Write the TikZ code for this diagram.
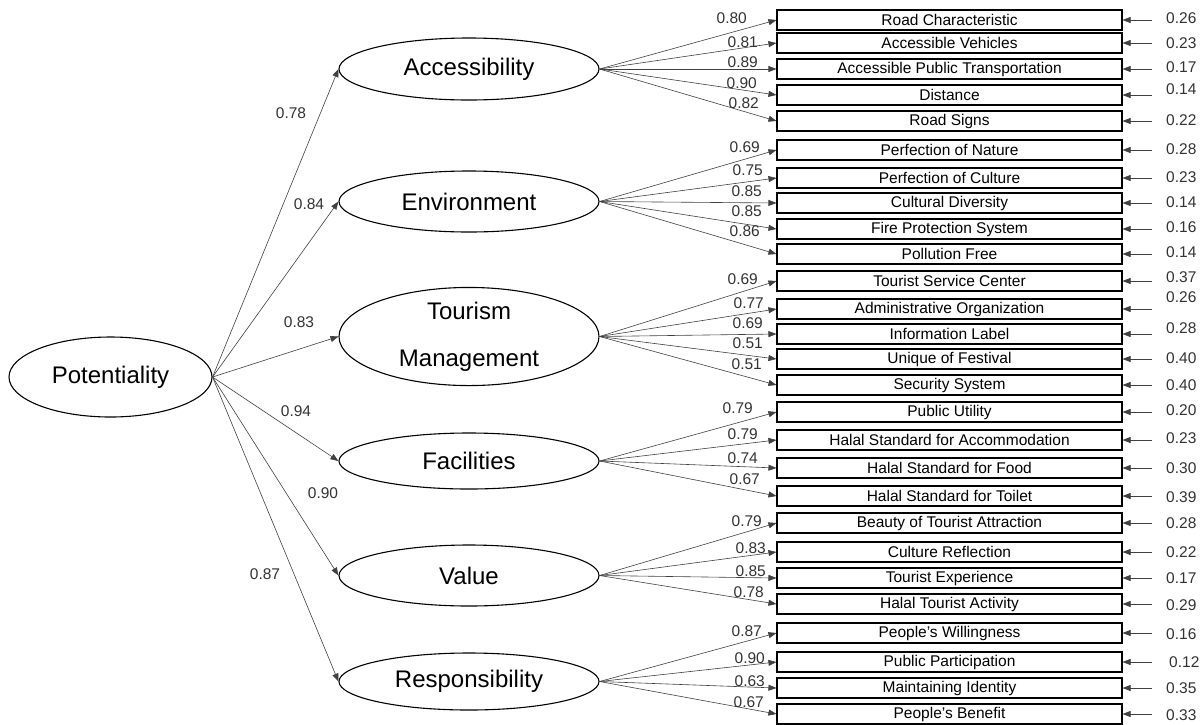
\documentclass[tikz,border=0pt]{standalone}
\usepackage{fontspec}
\setmainfont{Liberation Sans}
\usetikzlibrary{shapes.geometric,arrows.meta}
\begin{document}
\begin{tikzpicture}[x=1pt,y=-1pt,
  lat/.style={draw,ellipse,line width=1.1pt,inner sep=0pt,minimum width=260pt,minimum height=61pt,font=\fontsize{24}{28}\selectfont},
  obs/.style={draw,rectangle,line width=1.1pt,minimum width=345pt,minimum height=20pt,inner sep=0pt,font=\fontsize{15.5}{18}\selectfont},
  ld/.style={draw=black!75,line width=0.6pt,-{Triangle[length=8pt,width=6pt]}},
  num/.style={inner sep=0pt,font=\fontsize{15.5}{18}\selectfont,text=black!80},
]
\useasboundingbox (0,0) rectangle (1201,724);
% second-order and first-order latent variables
\node[lat,minimum width=203pt,minimum height=80pt] (pot) at (110.5,377) {Potentiality};
\node[lat,minimum height=62pt] (acc) at (469,69) {Accessibility};
\node[lat] (env) at (469,201.5) {Environment};
\node[lat,minimum height=93pt,align=center] (tm) at (469,336.5) {Tourism\\[19pt]Management};
\node[lat,minimum height=56pt] (fac) at (469,461) {Facilities};
\node[lat] (val) at (469,575.5) {Value};
\node[lat,minimum height=57pt] (res) at (469,681.5) {Responsibility};
% indicators
\foreach \i/\y/\t in {
  1/20/Road Characteristic, 2/43/Accessible Vehicles, 3/69/Accessible Public Transportation,
  4/95/Distance, 5/121/Road Signs, 6/150/Perfection of Nature, 7/178/Perfection of Culture,
  8/203/Cultural Diversity, 9/229/Fire Protection System, 10/254/Pollution Free,
  11/281/Tourist Service Center, 12/309/Administrative Organization, 13/334/Information Label,
  14/359/Unique of Festival, 15/385/Security System, 16/412/Public Utility,
  17/440/Halal Standard for Accommodation, 18/468/Halal Standard for Food,
  19/496/Halal Standard for Toilet, 20/523/Beauty of Tourist Attraction,
  21/552/Culture Reflection, 22/578/Tourist Experience, 23/604/Halal Tourist Activity,
  24/633/People's Willingness, 25/662/Public Participation, 26/688/Maintaining Identity,
  27/714/People's Benefit}
  {\node[obs] (b\i) at (949.5,\y) {\t};}
% second-order paths
\foreach \n in {acc,env,tm,fac,val,res}
  {\draw[ld] (pot.east) -- (\n.west);}
\node[num] (s1) at (291,113) {0.78};
\node[num] (s2) at (309,204) {0.84};
\node[num] (s3) at (299,322) {0.83};
\node[num] (s4) at (296,411) {0.94};
\node[num] (s5) at (323,493) {0.90};
\node[num] (s6) at (265,574) {0.87};
% loadings
\foreach \i in {1,...,5} {\draw[ld] (acc.east) -- (b\i.west);}
\foreach \i in {6,...,10} {\draw[ld] (env.east) -- (b\i.west);}
\foreach \i in {11,...,15} {\draw[ld] (tm.east) -- (b\i.west);}
\foreach \i in {16,...,19} {\draw[ld] (fac.east) -- (b\i.west);}
\foreach \i in {20,...,23} {\draw[ld] (val.east) -- (b\i.west);}
\foreach \i in {24,...,27} {\draw[ld] (res.east) -- (b\i.west);}
\foreach \i/\l/\x/\y in {
  1/0.80/747/18, 2/0.81/758/42, 3/0.89/758/62, 4/0.90/757/83, 5/0.82/759/103,
  6/0.69/760/147, 7/0.75/763/170, 8/0.85/762/191, 9/0.85/762/211, 10/0.86/760/231,
  11/0.69/758/279, 12/0.77/764/303, 13/0.69/763/323, 14/0.51/763/343, 15/0.51/762/364,
  16/0.79/753/408, 17/0.79/758/434, 18/0.74/758/458, 19/0.67/760/479,
  20/0.79/762/521, 21/0.83/766/548, 22/0.85/766/571, 23/0.78/764/592,
  24/0.87/762/631, 25/0.90/765/658, 26/0.63/765/681, 27/0.67/764/702}
  {\node[num,anchor=east] (l\i) at (\x,\y) {\l};}
% error terms
\foreach \i/\v/\x/\y in {
  1/0.26/1166/18, 2/0.23/1166/43, 3/0.17/1166/67, 4/0.14/1166/89, 5/0.22/1166/120,
  6/0.28/1166/149, 7/0.23/1166/177, 8/0.14/1166/202, 9/0.16/1166/227, 10/0.14/1166/252,
  11/0.37/1166/277, 12/0.26/1166/297, 13/0.28/1166/328, 14/0.40/1166/358, 15/0.40/1166/385,
  16/0.20/1166/410, 17/0.23/1166/438, 18/0.30/1166/468, 19/0.39/1166/497,
  20/0.28/1166/523, 21/0.22/1166/552, 22/0.17/1166/578, 23/0.29/1166/605,
  24/0.16/1166/634, 25/0.12/1169/662, 26/0.35/1166/688, 27/0.33/1166/715}
  {\coordinate (e\i) at ([xshift=29pt]b\i.east);
   \draw[ld] (e\i) -- (b\i.east);
   \node[num,anchor=west] (r\i) at (\x,\y) {\v};}
\end{tikzpicture}
\end{document}
